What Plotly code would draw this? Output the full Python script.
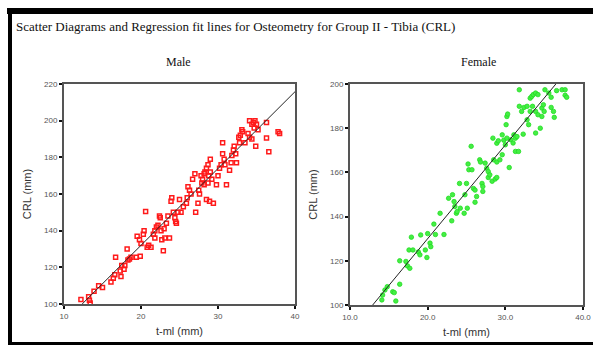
import plotly.graph_objects as go

W, H = 593, 345

# ---------------- data ----------------
male_x = [12.2, 13.2, 13.3, 13.4, 13.9, 14.5, 15.0, 16.1, 16.4, 16.6, 16.7, 17.3, 17.5, 17.4,
          17.8, 17.9, 18.2, 18.3, 18.5, 18.7, 19.4, 19.5, 19.8, 20.0, 19.9, 20.3, 20.4, 20.6,
          20.8, 21.0, 21.3, 21.6, 21.8, 22.0, 22.2, 22.4, 22.7, 22.9, 23.1, 23.5, 23.3, 23.7,
          23.9, 24.0, 24.2, 24.4, 24.6, 25.0, 25.2, 25.5, 25.9, 26.1, 26.3, 26.5, 26.7, 27.0,
          27.1, 27.4, 27.6, 27.9, 28.0, 28.2, 28.3, 28.5, 28.7, 28.5, 28.9, 28.8, 29.0, 29.0,
          29.4, 29.8, 30.0, 30.2, 30.4, 30.6, 30.8, 30.6, 31.1, 31.5, 31.7, 31.8, 32.0, 32.1,
          32.3, 32.4, 32.7, 32.9, 32.8, 33.1, 33.2, 33.9, 34.1, 34.4, 34.1, 34.4, 34.6, 34.8,
          35.0, 34.9, 36.3, 36.3, 36.6, 37.8, 38.0,
          21.8, 22.5, 23.0, 24.5, 22.6, 24.8, 26.0, 27.5, 28.2, 29.2, 30.9, 33.5, 34.7, 35.2,
          27.8, 28.7]
male_y = [102.4, 104, 102, 100.5, 107, 110, 109, 112, 114, 116, 125.5, 118, 121, 115,
          119, 121, 130, 124, 124.5, 125.5, 125.5, 137, 135, 133, 126, 138, 140, 150.5,
          131, 132, 131, 138, 136, 142, 143, 148, 135, 129, 136, 148, 144, 136,
          156, 158, 150, 147, 144, 157, 150, 153, 155, 164, 162, 160, 168, 171,
          150, 155, 160, 166, 168, 171, 172, 174, 176, 157, 156, 170, 172, 179,
          155, 165, 170, 174, 176, 182, 179, 188, 165, 173, 177, 181, 184, 186,
          182, 177, 191, 192, 188, 195, 194, 193, 191, 190, 200, 198, 199, 200,
          198, 186, 199, 190.5, 183, 194, 193,
          140, 147, 141, 145, 140, 150, 158, 162, 165, 168, 176, 188, 196, 195,
          170, 166]

female_x = [14.1, 14.2, 14.5, 14.8, 15.5, 15.7, 15.9, 16.4, 16.4, 17.2, 17.4, 17.7, 17.9, 17.6,
            18.1, 18.8, 19.0, 19.1, 19.7, 19.9, 20.0, 20.3, 20.4, 21.0, 20.8, 21.6, 22.1, 22.7,
            23.1, 23.2, 23.4, 23.5, 23.7, 23.8, 24.1, 24.2, 24.7, 24.8, 25.0, 25.1, 25.2, 25.3,
            25.6, 25.7, 25.9, 26.1, 26.1, 26.3, 26.7, 26.8, 27.0, 27.1, 27.1, 27.4, 27.6, 27.8,
            27.8, 28.0, 28.3, 28.7, 28.9, 28.4, 28.5, 28.9, 28.9, 29.1, 29.3, 29.6, 29.6, 29.8,
            30.0, 30.2, 30.1, 30.2, 30.3, 30.5, 30.7, 31.0, 31.1, 31.3, 31.3, 31.7, 31.5, 31.8,
            31.8, 32.1, 32.3, 32.4, 32.8, 32.8, 33.0, 33.2, 33.2, 33.4, 33.6, 33.5, 33.9, 34.2,
            33.9, 33.9, 34.2, 34.5, 34.7, 34.9, 34.7, 35.0, 35.1, 35.6, 35.9, 35.9, 36.2, 36.3,
            36.6, 37.3, 37.7, 37.7, 37.9]
female_y = [102.3, 104.5, 106.8, 108.3, 106, 105.6, 101.8, 109.4, 120, 119.7, 117.7, 116.6, 130.7, 124.9,
            124.9, 124, 122.7, 131.7, 124.9, 121.5, 132.3, 128, 126.4, 131.9, 136.6, 141.5, 131.9, 148.3,
            138.1, 149.9, 146.8, 144.6, 141.5, 142.3, 155, 143.8, 141.5, 149.9, 155, 143.8, 163.8, 161.2,
            171.8, 161.2, 152.7, 152, 146.5, 149.1, 165.7, 164.7, 155, 153.6, 151.4, 164.2, 161.9, 160.4,
            157.7, 158.9, 156, 157, 157.7, 175.5, 165.7, 164.7, 173.2, 174.3, 165.7, 168, 177, 174.6,
            172.5, 175.5, 181.6, 185.3, 186.4, 162.2, 174.8, 173.3, 177, 175.5, 169.5, 169.5, 176.2, 197.4,
            189.9, 187.6, 177.3, 189.4, 189.9, 183.8, 181.6, 187.6, 193.6, 194.4, 195.2, 189.9, 187.6, 186.1,
            177.8, 195.9, 195.2, 180, 189.1, 190.6, 185.3, 187.6, 197.4, 195.9, 194, 189.4, 187.6, 184.9,
            197, 197.4, 197.4, 194.9, 194]

# regression fits: (intercept, slope) and x-extent of fit line
male_fit = [48.2, 4.19]
male_fit_x = [12.35, 40.0]
female_fit = [45.22, 4.24]
female_fit_x = [12.92, 36.5]

male_xticks = [10, 20, 30, 40]
male_yticks = [100, 120, 140, 160, 180, 200, 220]
female_xticks = [10, 20, 30, 40]
female_xticklabels = ["10.0", "20.0", "30.0", "40.0"]
female_yticks = [100, 120, 140, 160, 180, 200]

male_fit_y = [male_fit[0] + male_fit[1] * x for x in male_fit_x]
female_fit_y = [female_fit[0] + female_fit[1] * x for x in female_fit_x]

fig = go.Figure()

fig.add_trace(go.Scatter(x=male_x, y=male_y, mode="markers", xaxis="x", yaxis="y",
                         marker=dict(symbol="square-open", size=4, color="#ff1a1a",
                                     line=dict(width=1.5, color="#ff1a1a")),
                         showlegend=False, cliponaxis=False, hoverinfo="skip"))
fig.add_trace(go.Scatter(x=male_fit_x, y=male_fit_y, mode="lines", xaxis="x", yaxis="y",
                         line=dict(color="#222", width=1), showlegend=False, hoverinfo="skip"))

fig.add_trace(go.Scatter(x=female_x, y=female_y, mode="markers", xaxis="x2", yaxis="y2",
                         marker=dict(symbol="circle", size=4.5, color="#44ee44",
                                     line=dict(width=0.8, color="#22dd22")),
                         showlegend=False, cliponaxis=False, hoverinfo="skip"))
fig.add_trace(go.Scatter(x=female_fit_x, y=female_fit_y, mode="lines", xaxis="x2", yaxis="y2",
                         line=dict(color="#222", width=1), showlegend=False, hoverinfo="skip"))


def px_x(p):
    return p / W


def px_y(p):
    return 1 - p / H


axis_common = dict(showline=True, linecolor="#555", linewidth=2, mirror=True,
                   ticks="outside", ticklen=3, tickwidth=2, tickcolor="#111",
                   showgrid=False, zeroline=False, automargin=False,
                   tickfont=dict(family="Liberation Sans Narrow, Arial Narrow, Liberation Sans", size=8, color="#555"),
                   title_font=dict(family="Liberation Sans, Arial", size=11, color="#333"))

fig.update_layout(
    template="none",
    hovermode=False,
    width=W, height=H,
    margin=dict(l=0, r=0, t=0, b=0, pad=0, autoexpand=False),
    paper_bgcolor="white", plot_bgcolor="white",
    xaxis=dict(domain=[px_x(64), px_x(295)], range=[10, 40], tickvals=male_xticks,
               anchor="y", title=dict(text="t-ml (mm)", standoff=8), **axis_common),
    yaxis=dict(domain=[px_y(304), px_y(84)], range=[100, 220], tickvals=male_yticks,
               anchor="x", title=dict(text="CRL (mm)", standoff=10), **axis_common),
    xaxis2=dict(domain=[px_x(350), px_x(583)], range=[10, 40], tickvals=female_xticks,
                ticktext=female_xticklabels,
                anchor="y2", title=dict(text="t-ml (mm)", standoff=8), **axis_common),
    yaxis2=dict(domain=[px_y(305), px_y(84)], range=[100, 200], tickvals=female_yticks,
                anchor="x2", title=dict(text="CRL (mm)", standoff=10), **axis_common),
    shapes=[
        dict(type="rect", xref="paper", yref="paper", x0=px_x(7), x1=1, y0=px_y(14), y1=px_y(8),
             fillcolor="black", line=dict(width=0)),
        dict(type="rect", xref="paper", yref="paper", x0=px_x(8), x1=px_x(12), y0=0, y1=px_y(8),
             fillcolor="black", line=dict(width=0)),
        dict(type="rect", xref="paper", yref="paper", x0=px_x(8), x1=1, y0=0, y1=px_y(342),
             fillcolor="black", line=dict(width=0)),
    ],
    annotations=[
        dict(text="Scatter Diagrams and Regression fit lines for Osteometry for Group II - Tibia (CRL)",
             xref="paper", yref="paper", x=px_x(14), y=px_y(27), xanchor="left", yanchor="middle",
             showarrow=False, font=dict(family="Liberation Serif, Times New Roman", size=13, color="#111")),
        dict(text="Male", xref="paper", yref="paper", x=px_x(178), y=px_y(62),
             xanchor="center", yanchor="middle", showarrow=False,
             font=dict(family="Liberation Serif, Times New Roman", size=12, color="#111")),
        dict(text="Female", xref="paper", yref="paper", x=px_x(478), y=px_y(62),
             xanchor="center", yanchor="middle", showarrow=False,
             font=dict(family="Liberation Serif, Times New Roman", size=12, color="#111")),
    ],
)

page_css = ("html,body{margin:0;padding:0;overflow:hidden;}"
            "::-webkit-scrollbar{display:none;width:0;height:0;}")
fig.write_html(
    "out.html",
    config={"displayModeBar": False, "staticPlot": True},
    post_script=("var s=document.createElement('style');s.textContent='" + page_css + "';"
                 "document.head.appendChild(s);"
                 "document.documentElement.style.overflow='hidden';"
                 "document.body.style.margin='0';document.body.style.overflow='hidden';"),
)
